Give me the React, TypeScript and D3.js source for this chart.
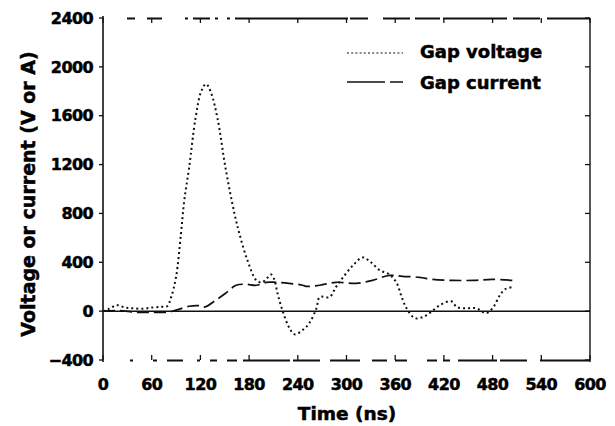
import React from "react";
import * as d3 from "d3";

// Gap voltage (V) and gap current (A) versus time (ns)
const voltageTime = [0, 8, 17, 27, 36, 50, 61, 72, 79, 84, 90, 96, 100, 106, 114, 121, 127, 133, 141, 151, 162, 168, 178, 189, 196, 202, 207, 211, 215, 221, 229, 236, 246, 254, 263, 267, 279, 287, 295, 308, 320, 330, 341, 353, 362, 368, 374, 384, 394, 404, 415, 429, 436, 448, 460, 472, 480, 489, 495, 505];
const voltageValue = [0, 20, 49, 30, 24, 20, 30, 35, 40, 115, 280, 630, 900, 1170, 1580, 1800, 1860, 1790, 1580, 1170, 797, 635, 415, 252, 236, 270, 300, 260, 146, 8, -130, -190, -155, -100, 24, 115, 115, 197, 270, 375, 440, 400, 335, 300, 228, 115, 24, -57, -49, -8, 49, 81, 33, 24, 24, -16, 24, 130, 178, 197];

const currentTime = [0, 20, 40, 60, 80, 90, 106, 118, 125, 139, 151, 164, 176, 189, 201, 213, 229, 246, 250, 267, 287, 312, 332, 353, 369, 390, 406, 431, 457, 480, 505];
const currentValue = [0, 5, -10, -10, -8, 8, 40, 45, 33, 90, 146, 212, 220, 212, 236, 236, 228, 212, 203, 212, 236, 228, 252, 293, 285, 277, 260, 252, 252, 260, 252];

const xTicks = [0, 60, 120, 180, 240, 300, 360, 420, 480, 540, 600];
const yTicks = [-400, 0, 400, 800, 1200, 1600, 2000, 2400];

const seriesNames = ["Gap voltage", "Gap current"];

const FONT = "'DejaVu Sans', sans-serif";

// broken print rules along the top and bottom of the frame, as [from, to] pixel runs
const TOP_RUNS: [number, number][] = [
  [127, 135], [147, 162], [185, 188], [193, 210], [215, 218], [227, 230],
  [235, 348], [350, 368], [383, 410], [415, 440], [443, 507], [513, 540], [547, 590],
];
const BOTTOM_RUNS: [number, number][] = [
  [130, 133], [153, 157], [167, 183], [197, 200], [210, 217], [227, 237],
  [243, 290], [293, 320], [330, 360], [372, 387], [395, 407], [427, 437],
  [443, 450], [458, 497], [500, 527], [540, 590],
];

export default function App() {
  const width = 615;
  const height = 426;
  const left = 103;
  const right = 590;
  const top = 18;
  const bottom = 360;

  const x = d3.scaleLinear().domain([0, 600]).range([left, right]);
  const y = d3.scaleLinear().domain([-400, 2400]).range([bottom, top]);

  const line = d3
    .line<[number, number]>()
    .x((d) => x(d[0]))
    .y((d) => y(d[1]))
    .curve(d3.curveCatmullRom.alpha(0.5));

  const voltagePts = voltageTime.map((t, i) => [t, voltageValue[i]] as [number, number]);
  const currentPts = currentTime.map((t, i) => [t, currentValue[i]] as [number, number]);

  const fmt = (v: number) => (v < 0 ? "\u2212" + Math.abs(v) : String(v));

  const textStyle = {
    fontFamily: FONT,
    fontWeight: "bold" as const,
    fill: "#000",
    stroke: "#000",
    strokeWidth: 0.5,
  };

  return (
    <svg
      width={width}
      height={height}
      style={{ position: "absolute", left: 0, top: 0, background: "#fff" }}
    >
      <rect x={0} y={0} width={width} height={height} fill="#fff" />

      {/* frame: solid left/right, broken top/bottom */}
      <line x1={left} y1={top - 2} x2={left} y2={bottom + 2} stroke="#111" strokeWidth={1.6} />
      <line x1={right} y1={top} x2={right} y2={bottom + 2} stroke="#111" strokeWidth={1.4} />
      {TOP_RUNS.map(([a, b], i) => (
        <rect key={"tr" + i} x={a} y={top - 0.5} width={b - a} height={2} fill="#111" />
      ))}
      {BOTTOM_RUNS.map(([a, b], i) => (
        <rect key={"br" + i} x={a} y={bottom - 0.5} width={b - a} height={2} fill="#111" />
      ))}

      {/* zero line */}
      <line x1={left} y1={y(0)} x2={right} y2={y(0)} stroke="#111" strokeWidth={1.5} />

      {/* x ticks (inward on top and bottom) */}
      {xTicks.map((t) => (
        <g key={"xt" + t}>
          <line x1={x(t)} y1={bottom} x2={x(t)} y2={bottom - 5} stroke="#111" strokeWidth={1.3} />
          <line x1={x(t)} y1={top} x2={x(t)} y2={top + 5} stroke="#111" strokeWidth={1.3} />
          <text x={x(t)} y={390} textAnchor="middle" fontSize={16} letterSpacing={-0.6} {...textStyle}>
            {t}
          </text>
        </g>
      ))}

      {/* y ticks */}
      {yTicks.map((v) => (
        <g key={"yt" + v}>
          <line x1={left} y1={y(v)} x2={left - 4} y2={y(v)} stroke="#111" strokeWidth={1.3} />
          <line x1={right} y1={y(v)} x2={right - 5} y2={y(v)} stroke="#111" strokeWidth={1.3} />
          <text x={93} y={y(v)} dy="0.36em" textAnchor="end" fontSize={16} letterSpacing={-0.6} {...textStyle}>
            {fmt(v)}
          </text>
        </g>
      ))}

      {/* series */}
      <path d={line(voltagePts) ?? ""} fill="none" stroke="#111" strokeWidth={2} strokeDasharray="2,3" />
      <path d={line(currentPts) ?? ""} fill="none" stroke="#111" strokeWidth={1.7} strokeDasharray="12,5" />

      {/* legend */}
      <line x1={347} y1={53} x2={403} y2={53} stroke="#111" strokeWidth={1.2} strokeDasharray="2,2.2" />
      <text x={420} y={58} fontSize={18} {...textStyle}>
        {seriesNames[0]}
      </text>
      <line x1={347} y1={82} x2={403} y2={82} stroke="#111" strokeWidth={1.6} strokeDasharray="38,5,13,0" />
      <text x={420} y={89} fontSize={18} {...textStyle}>
        {seriesNames[1]}
      </text>

      {/* axis titles */}
      <text x={347} y={420} textAnchor="middle" fontSize={18.5} {...textStyle}>
        Time (ns)
      </text>
      <text transform="translate(35,194) rotate(-90)" textAnchor="middle" fontSize={19} {...textStyle}>
        Voltage or current (V or A)
      </text>
    </svg>
  );
}
